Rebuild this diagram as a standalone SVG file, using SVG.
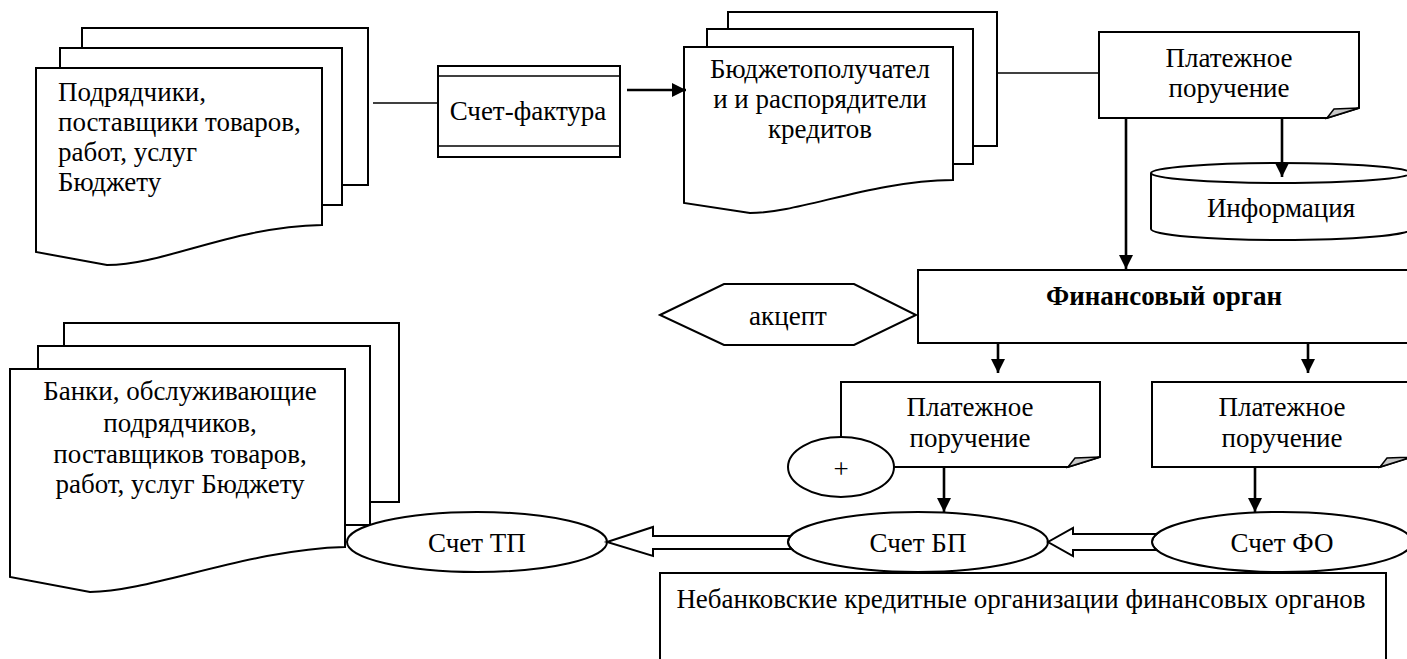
<svg xmlns="http://www.w3.org/2000/svg" width="1407" height="659" viewBox="0 0 1407 659">
<style>
.s{fill:#fff;stroke:#000;stroke-width:2}
.t{font-family:"Liberation Serif","Times New Roman",serif;font-size:27px;fill:#000}
.c{text-anchor:middle}
.ln{stroke:#000;stroke-width:1.6;fill:none}
.ar{stroke:#000;stroke-width:2.6;fill:none;marker-end:url(#ah)}
.fold{fill:#c8c8c8;stroke:#000;stroke-width:1.5}
</style>
<defs>
<marker id="ah" viewBox="0 0 14 14" refX="14" refY="7" markerWidth="14" markerHeight="14" markerUnits="userSpaceOnUse" orient="auto">
<path d="M0,0 L14,7 L0,14 Z" fill="#000"/>
</marker>
</defs>
<rect width="1407" height="659" fill="#fff"/>

<g id="doc-podryadchiki">
<rect class="s" x="82" y="28" width="286" height="157"/>
<rect class="s" x="60" y="48" width="282" height="157"/>
<path class="s" d="M36,68 H322 V225 C230,227 165,265 107,265 L36,252 Z"/>
<text class="t" x="58" y="101">Подрядчики,</text>
<text class="t" x="58" y="131">поставщики товаров,</text>
<text class="t" x="58" y="161">работ, услуг</text>
<text class="t" x="58" y="191">Бюджету</text>
</g>

<g id="schet-faktura">
<rect class="s" x="438" y="66" width="182" height="91"/>
<line class="ln" x1="438" y1="76" x2="620" y2="76"/>
<line class="ln" x1="438" y1="146" x2="620" y2="146"/>
<text class="t c" x="528" y="120">Счет-фактура</text>
</g>

<g id="doc-byudzhetopoluchateli">
<rect class="s" x="728" y="12" width="269" height="134"/>
<rect class="s" x="707" y="29" width="266" height="135"/>
<path class="s" d="M684,47 H953 V180 C870,181 800,213 750,213 L684,203 Z"/>
<text class="t c" x="820" y="78">Бюджетополучател</text>
<text class="t c" x="820" y="108">и и распорядители</text>
<text class="t c" x="820" y="138">кредитов</text>
</g>

<g id="plat-top">
<path class="s" d="M1099,32 H1359 V108 L1327,118 H1099 Z"/>
<polygon class="fold" points="1327,118 1334,109 1359,108"/>
<text class="t c" x="1229" y="67">Платежное</text>
<text class="t c" x="1229" y="97">поручение</text>
</g>

<g id="informatsiya">
<path class="s" d="M1151,173 V229 A130,11 0 0 0 1411,229 V173"/>
<ellipse class="s" cx="1281" cy="173" rx="130" ry="10"/>
<text class="t c" x="1281" y="217">Информация</text>
</g>

<g id="finansovy-organ">
<rect class="s" x="918" y="270" width="494" height="73"/>
<text class="t c" x="1164" y="305" font-weight="bold">Финансовый орган</text>
</g>

<g id="aktsept">
<polygon class="s" points="660,315 724,284 854,284 916,315 854,345 724,345"/>
<text class="t c" x="788" y="325">акцепт</text>
</g>

<g id="plat-left">
<path class="s" d="M841,382 H1100 V457 L1068,467 H841 Z"/>
<polygon class="fold" points="1068,467 1075,458 1100,457"/>
<text class="t c" x="970" y="416">Платежное</text>
<text class="t c" x="970" y="447">поручение</text>
</g>

<g id="plus">
<ellipse class="s" cx="841" cy="467" rx="53" ry="30"/>
<text class="t c" x="841" y="478">+</text>
</g>

<g id="plat-right">
<path class="s" d="M1152,382 H1412 V457 L1380,467 H1152 Z"/>
<polygon class="fold" points="1380,467 1387,458 1412,457"/>
<text class="t c" x="1282" y="416">Платежное</text>
<text class="t c" x="1282" y="447">поручение</text>
</g>

<g id="doc-banki">
<rect class="s" x="64" y="323" width="335" height="179"/>
<rect class="s" x="38" y="346" width="332" height="179"/>
<path class="s" d="M10,369 H345 V547 C250,549 150,592 90,592 L10,577 Z"/>
<text class="t c" x="180" y="400">Банки, обслуживающие</text>
<text class="t c" x="180" y="432">подрядчиков,</text>
<text class="t c" x="180" y="463">поставщиков товаров,</text>
<text class="t c" x="180" y="493">работ, услуг Бюджету</text>
</g>

<g id="schet-tp">
<ellipse class="s" cx="477" cy="542" rx="130" ry="30"/>
<text class="t c" x="477" y="552">Счет ТП</text>
</g>

<g id="schet-bp">
<ellipse class="s" cx="918" cy="542" rx="130" ry="30"/>
<text class="t c" x="918" y="552">Счет БП</text>
</g>

<g id="schet-fo">
<ellipse class="s" cx="1282" cy="542" rx="130" ry="30"/>
<text class="t c" x="1282" y="552">Счет ФО</text>
</g>

<g id="nebankovskie">
<rect class="s" x="660" y="573" width="726" height="100"/>
<text class="t c" x="1021" y="608">Небанковские кредитные организации финансовых органов</text>
</g>

<g id="connectors">
<line class="ln" x1="373" y1="103" x2="438" y2="103"/>
<line class="ar" x1="627" y1="90" x2="686" y2="90"/>
<line class="ln" x1="997" y1="73" x2="1099" y2="73"/>
<line class="ar" x1="1282" y1="119" x2="1282" y2="177"/>
<line class="ar" x1="1126" y1="119" x2="1126" y2="269"/>
<line class="ar" x1="998" y1="344" x2="998" y2="373"/>
<line class="ar" x1="1308" y1="344" x2="1308" y2="373"/>
<line class="ar" x1="944" y1="468" x2="944" y2="512"/>
<line class="ar" x1="1255" y1="468" x2="1255" y2="512"/>
<path class="s" d="M1156.7,534 H1073 V528 L1048,542 L1073,556 V550 H1156.7 A130,30 0 0 1 1156.7,534 Z"/>
<path class="s" d="M790.6,536 H653 V527 L607,542 L653,556 V549 H791.6 A130,30 0 0 1 790.6,536 Z"/>
</g>
</svg>
